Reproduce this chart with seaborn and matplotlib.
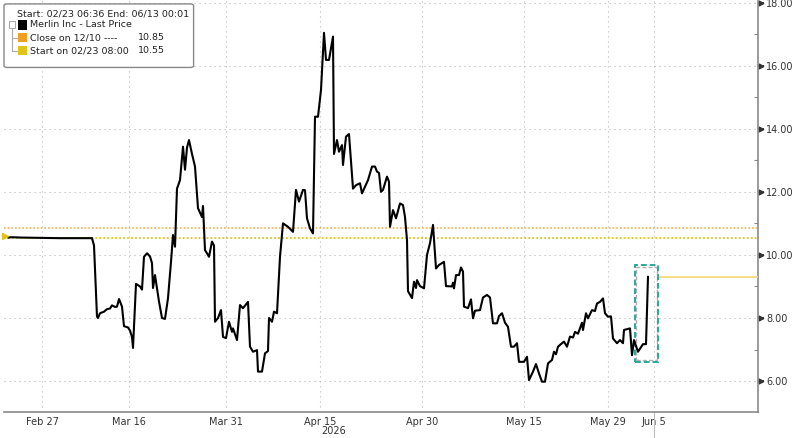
import matplotlib
matplotlib.use("Agg")
import matplotlib.pyplot as plt
import matplotlib.transforms as mtransforms
from matplotlib.patches import Rectangle, FancyBboxPatch
from matplotlib.lines import Line2D
import seaborn as sns
import pandas as pd

# intraday bar index and last price
bar = [0, 3, 7, 15, 35, 55, 75, 87, 89, 92, 93, 95, 99, 102, 105, 107, 110, 112, 114,
       117, 119, 123, 125, 127, 128, 131, 135, 137, 139, 142, 145, 147, 148, 150, 154,
       157, 160, 163, 166, 168, 170, 172, 175, 178, 180, 182, 184, 187, 190, 193, 197,
       198, 200, 202, 204, 207, 209, 210, 213, 216, 218, 221, 224, 227, 228, 232, 235,
       238, 243, 245, 248, 252, 253, 257, 260, 263, 264, 267, 269, 272, 275, 278, 283,
       288, 291, 294, 298, 300, 302, 305, 308, 310, 313, 316, 319, 321, 324, 328, 329,
       332, 334, 337, 338, 341, 344, 348, 351, 355, 357, 360, 363, 367, 370, 372, 374,
       376, 378, 382, 384, 385, 388, 391, 395, 398, 400, 402, 403, 407, 409, 411, 412,
       415, 419, 422, 425, 428, 431, 434, 439, 441, 447, 448, 449, 451, 454, 456, 458,
       459, 463, 466, 468, 470, 475, 478, 482, 485, 488, 492, 494, 497, 500, 503, 506,
       509, 512, 514, 519, 522, 524, 528, 531, 534, 537, 540, 543, 547, 549, 551, 553,
       557, 559, 562, 565, 568, 570, 573, 577, 578, 581, 583, 587, 590, 592, 595, 598,
       600, 603, 606, 608, 612, 615, 618, 619, 625, 627, 629, 633, 638, 641, 643]
price = [10.60, 10.55, 10.56, 10.55, 10.54, 10.53, 10.53, 10.53, 10.30, 8.04, 8.00,
         8.15, 8.20, 8.28, 8.30, 8.40, 8.35, 8.36, 8.60, 8.36, 7.74, 7.70, 7.60, 7.40,
         7.05, 9.08, 9.00, 8.90, 9.94, 10.05, 9.95, 9.74, 8.95, 9.36, 8.52, 8.00, 7.97,
         8.63, 9.78, 10.63, 10.26, 12.10, 12.37, 13.43, 12.70, 13.40, 13.64, 13.20, 12.80,
         11.48, 11.20, 11.55, 10.15, 10.05, 9.94, 10.42, 10.30, 7.88, 8.00, 8.25, 7.40,
         7.36, 7.88, 7.56, 7.67, 7.30, 8.41, 8.31, 8.51, 7.09, 6.93, 6.98, 6.30, 6.30,
         6.88, 6.95, 8.00, 7.88, 8.20, 8.15, 9.94, 11.00, 10.89, 10.73, 12.06, 11.69,
         12.06, 12.05, 11.16, 10.84, 10.68, 14.38, 14.38, 15.23, 17.04, 16.18, 16.18,
         16.92, 13.20, 13.64, 13.27, 13.48, 12.85, 13.75, 13.83, 12.10, 12.21, 12.27,
         11.95, 12.16, 12.37, 12.80, 12.80, 12.64, 12.60, 12.00, 12.06, 12.48, 12.32,
         10.89, 11.42, 11.16, 11.63, 11.58, 11.20, 10.47, 8.85, 8.63, 9.15, 8.95, 9.20,
         9.01, 8.94, 10.00, 10.37, 10.95, 9.57, 9.68, 9.78, 9.01, 9.00, 9.12, 8.94, 9.36,
         9.36, 9.60, 9.47, 8.36, 8.31, 8.59, 7.99, 8.23, 8.25, 8.65, 8.73, 8.65, 7.83,
         7.83, 8.06, 8.15, 7.85, 7.72, 7.09, 7.09, 7.20, 6.61, 6.61, 6.77, 6.03, 6.30,
         6.54, 6.24, 5.98, 5.98, 6.56, 6.67, 6.93, 6.85, 7.09, 7.20, 7.25, 7.09, 7.41,
         7.38, 7.56, 7.50, 7.85, 7.62, 8.15, 7.99, 8.25, 8.22, 8.46, 8.51, 8.62, 8.15,
         8.04, 8.05, 7.35, 7.20, 7.30, 7.20, 7.62, 7.67, 6.82, 7.30, 6.93, 7.17, 7.17,
         9.31]

tick_bars = [37, 124, 221, 315, 417, 519, 603, 649]
tick_labels = ["Feb 27", "Mar 16", "Mar 31", "Apr 15", "Apr 30", "May 15", "May 29", "Jun 5"]
minor_bars = [88, 167, 268, 361, 472, 566]
y_ticks = [6, 8, 10, 12, 14, 16, 18]
y_minor = [7, 9, 11, 13, 15, 17]

close_ref = 10.85
start_ref = 10.55
last_price = 9.31
box_bars = [630, 653]
box_prices = [6.61, 9.68]

legend_header = "Start: 02/23 06:36 End: 06/13 00:01"
legend_rows = ["Merlin Inc - Last Price", "Close on 12/10 ----", "Start on 02/23 08:00"]
legend_values = ["", "10.85", "10.55"]

C_CLOSE = "#f0a020"
C_START = "#e2c417"
C_TEAL = "#2aa89a"

sns.set_style("white")
plt.rcParams['font.family'] = ['DejaVu Sans']

df = pd.DataFrame({'bar': bar, 'price': price})

fig = plt.figure(figsize=(8, 4.38), dpi=100)
ax = fig.add_axes([0.005, 0.0594, 0.9425, 0.9406])

# reference lines
ax.axhline(close_ref, color=C_CLOSE, lw=1.2, ls=(0, (1, 1.2)), alpha=0.8, zorder=2)
ax.axhline(start_ref, color=C_START, lw=1.3, ls=(0, (1, 1.2)), zorder=2)

sns.lineplot(data=df, x='bar', y='price', color='black', lw=1.5, ax=ax,
             estimator=None, zorder=6)
ax.plot([bar[0]], [price[0]], marker='>', color=C_START, ms=5, zorder=7, clip_on=False)

# last price line and highlight box
ax.plot([box_bars[1], 753], [last_price, last_price], color='#f3d772', lw=1.2, zorder=3)
ax.add_patch(Rectangle((box_bars[0] + 1, box_prices[0] + 0.05), box_bars[1] - box_bars[0] - 2,
                       box_prices[1] - box_prices[0] - 0.1, fill=False, ec='#b0b0b0',
                       lw=1.0, ls=(0, (3, 1.5)), zorder=4))
ax.add_patch(Rectangle((box_bars[0], box_prices[0]), box_bars[1] - box_bars[0],
                       box_prices[1] - box_prices[0], fill=False, ec=C_TEAL,
                       lw=1.4, ls=(0, (3, 1.5)), zorder=5))

ax.set_xlim(-1, 753)
ax.set_ylim(5.02, 18.08)

ax.set_xticks(tick_bars)
ax.set_xticklabels(tick_labels)
ax.set_xticks(minor_bars, minor=True)
ax.yaxis.tick_right()
ax.set_yticks(y_ticks)
ax.set_yticklabels([f"{v:.2f}" for v in y_ticks])
ax.set_yticks(y_minor, minor=True)
ax.set_xlabel('')
ax.set_ylabel('')

ax.grid(True, which='major', color='#b8b8b8', lw=0.8, ls=(0, (1, 3.5)))
ax.grid(False, which='minor')

for s in ['left', 'top']:
    ax.spines[s].set_visible(False)
for s in ['bottom', 'right']:
    ax.spines[s].set_color('#8a8a8a')
    ax.spines[s].set_linewidth(1.2)

ax.tick_params(axis='x', which='major', direction='inout', length=5, width=0.8,
               color='#8a8a8a', labelsize=7, pad=1, labelcolor='#333333')
ax.tick_params(axis='x', which='minor', direction='inout', length=4, width=0.8,
               color='#8a8a8a')
ax.tick_params(axis='y', which='major', direction='out', length=4, width=1.2,
               color='#333333', labelsize=7, pad=2, labelcolor='#333333')
ax.tick_params(axis='y', which='minor', direction='in', length=3, width=0.8,
               color='#8a8a8a')

trans_y = mtransforms.blended_transform_factory(ax.transAxes, ax.transData)
ax.plot([1.004] * len(y_ticks), y_ticks, ls='none', marker='>', ms=3.5,
        color='#333333', transform=trans_y, clip_on=False)

trans_x = mtransforms.blended_transform_factory(ax.transData, ax.transAxes)
ax.text(316, -0.033, "2026", transform=trans_x, fontsize=7, color='#333333',
        ha='left', va='top')
ax.plot([649, 649], [0, -0.07], transform=trans_x, color='#bbbbbb', lw=0.8,
        clip_on=False)

# legend box top left
fig.patches.append(FancyBboxPatch((0.005, 0.846), 0.237, 0.145,
                                  boxstyle="round,pad=0,rounding_size=0.004",
                                  transform=fig.transFigure, fc='white',
                                  ec='#888888', lw=1.0, zorder=10))
fig.text(0.021, 0.967, legend_header, fontsize=6.8, color='#222222', va='center',
         zorder=11)
row_y = [0.943, 0.914, 0.884]
sq_colors = ['black', C_CLOSE, C_START]
for yy, lab, val, col in zip(row_y, legend_rows, legend_values, sq_colors):
    fig.patches.append(Rectangle((0.022, yy - 0.0105), 0.0115, 0.021,
                                 transform=fig.transFigure, fc=col, ec='none',
                                 zorder=11))
    fig.text(0.0375, yy, lab, fontsize=6.8, color='#222222', va='center', zorder=11)
    if val:
        fig.text(0.206, yy, val, fontsize=6.8, color='#222222', va='center',
                 ha='right', zorder=11)
fig.lines.append(Line2D([0.015, 0.015], [row_y[0], row_y[2]], transform=fig.transFigure,
                        color='#aaaaaa', lw=0.8, zorder=11))
for yy in row_y[1:]:
    fig.lines.append(Line2D([0.015, 0.021], [yy, yy], transform=fig.transFigure,
                            color='#aaaaaa', lw=0.8, zorder=11))
fig.patches.append(Rectangle((0.011, row_y[0] - 0.008), 0.008, 0.016,
                             transform=fig.transFigure, fc='white', ec='#aaaaaa',
                             lw=0.8, zorder=12))

fig.savefig('out.png', dpi=100)
